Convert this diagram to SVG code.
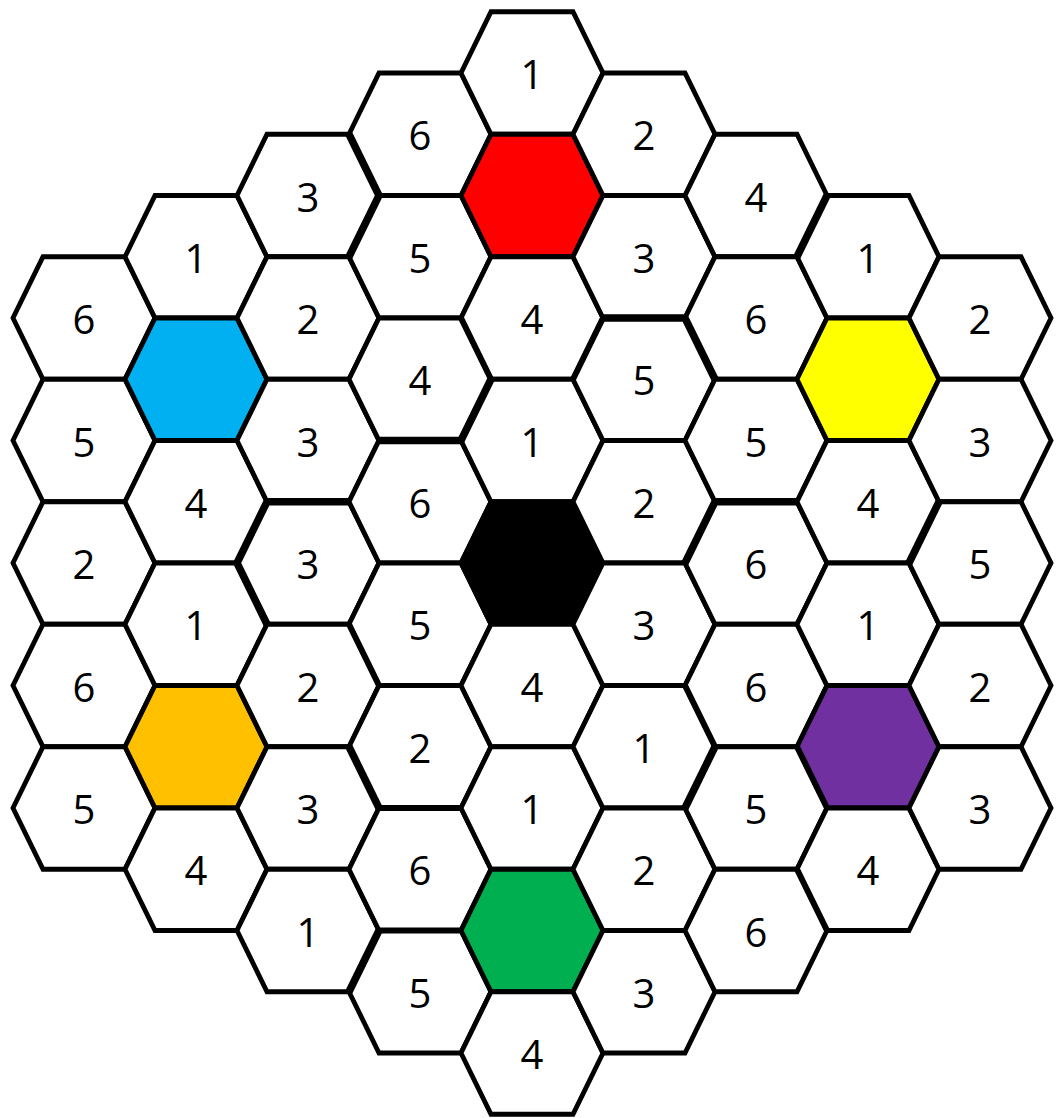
<svg xmlns="http://www.w3.org/2000/svg" xmlns:xlink="http://www.w3.org/1999/xlink" width="1056" height="1118" viewBox="0 0 1056 1118">
<style>
.h{stroke:#000;stroke-width:4.8;stroke-linejoin:miter}
.w{fill:#fff}
.red{fill:#FF0000}.blue{fill:#00B0F0}.yellow{fill:#FFFF00}.black{fill:#000}.orange{fill:#FFC000}.purple{fill:#7030A0}.green{fill:#00B050}
.t{stroke:#000;stroke-width:7.5;stroke-linecap:butt;fill:none}
.m{stroke:#000;stroke-width:6;stroke-linecap:butt;fill:none}
text{font-family:"Open Sans","Noto Sans","DejaVu Sans",sans-serif;font-size:40px;fill:#000;text-anchor:middle}
</style>
<defs>
<polygon id="hex" points="-41,-61.25 41,-61.25 71,0 41,61.25 -41,61.25 -71,0"/>
</defs>
<rect width="1056" height="1118" fill="#fff"/>
<g id="connectors"/>
<g id="c1">
<g id="n1_1" transform="translate(84,318)"><use xlink:href="#hex" class="h w"/><text y="16">6</text></g>
<g id="n1_2" transform="translate(84,440.5)"><use xlink:href="#hex" class="h w"/><text y="16">5</text></g>
<g id="n1_3" transform="translate(84,563)"><use xlink:href="#hex" class="h w"/><text y="16">2</text></g>
<g id="n1_4" transform="translate(84,685.5)"><use xlink:href="#hex" class="h w"/><text y="16">6</text></g>
<g id="n1_5" transform="translate(84,808)"><use xlink:href="#hex" class="h w"/><text y="16">5</text></g>
</g>
<g id="c2">
<g id="n2_1" transform="translate(196,256.75)"><use xlink:href="#hex" class="h w"/><text y="16">1</text></g>
<g id="n2_2" transform="translate(196,379.25)"><use xlink:href="#hex" class="h blue"/></g>
<g id="n2_3" transform="translate(196,501.75)"><use xlink:href="#hex" class="h w"/><text y="16">4</text></g>
<g id="n2_4" transform="translate(196,624.25)"><use xlink:href="#hex" class="h w"/><text y="16">1</text></g>
<g id="n2_5" transform="translate(196,746.75)"><use xlink:href="#hex" class="h orange"/></g>
<g id="n2_6" transform="translate(196,869.25)"><use xlink:href="#hex" class="h w"/><text y="16">4</text></g>
</g>
<g id="c3">
<g id="n3_1" transform="translate(308,195.5)"><use xlink:href="#hex" class="h w"/><text y="16">3</text></g>
<g id="n3_2" transform="translate(308,318)"><use xlink:href="#hex" class="h w"/><text y="16">2</text></g>
<g id="n3_3" transform="translate(308,440.5)"><use xlink:href="#hex" class="h w"/><text y="16">3</text></g>
<g id="n3_4" transform="translate(308,563)"><use xlink:href="#hex" class="h w"/><text y="16">3</text></g>
<g id="n3_5" transform="translate(308,685.5)"><use xlink:href="#hex" class="h w"/><text y="16">2</text></g>
<g id="n3_6" transform="translate(308,808)"><use xlink:href="#hex" class="h w"/><text y="16">3</text></g>
<g id="n3_7" transform="translate(308,930.5)"><use xlink:href="#hex" class="h w"/><text y="16">1</text></g>
</g>
<g id="c4">
<g id="n4_1" transform="translate(420,134.25)"><use xlink:href="#hex" class="h w"/><text y="16">6</text></g>
<g id="n4_2" transform="translate(420,256.75)"><use xlink:href="#hex" class="h w"/><text y="16">5</text></g>
<g id="n4_3" transform="translate(420,379.25)"><use xlink:href="#hex" class="h w"/><text y="16">4</text></g>
<g id="n4_4" transform="translate(420,501.75)"><use xlink:href="#hex" class="h w"/><text y="16">6</text></g>
<g id="n4_5" transform="translate(420,624.25)"><use xlink:href="#hex" class="h w"/><text y="16">5</text></g>
<g id="n4_6" transform="translate(420,746.75)"><use xlink:href="#hex" class="h w"/><text y="16">2</text></g>
<g id="n4_7" transform="translate(420,869.25)"><use xlink:href="#hex" class="h w"/><text y="16">6</text></g>
<g id="n4_8" transform="translate(420,991.75)"><use xlink:href="#hex" class="h w"/><text y="16">5</text></g>
</g>
<g id="c5">
<g id="n5_1" transform="translate(532,73)"><use xlink:href="#hex" class="h w"/><text y="16">1</text></g>
<g id="n5_2" transform="translate(532,195.5)"><use xlink:href="#hex" class="h red"/></g>
<g id="n5_3" transform="translate(532,318)"><use xlink:href="#hex" class="h w"/><text y="16">4</text></g>
<g id="n5_4" transform="translate(532,440.5)"><use xlink:href="#hex" class="h w"/><text y="16">1</text></g>
<g id="n5_5" transform="translate(532,563)"><use xlink:href="#hex" class="h black"/></g>
<g id="n5_6" transform="translate(532,685.5)"><use xlink:href="#hex" class="h w"/><text y="16">4</text></g>
<g id="n5_7" transform="translate(532,808)"><use xlink:href="#hex" class="h w"/><text y="16">1</text></g>
<g id="n5_8" transform="translate(532,930.5)"><use xlink:href="#hex" class="h green"/></g>
<g id="n5_9" transform="translate(532,1053)"><use xlink:href="#hex" class="h w"/><text y="16">4</text></g>
</g>
<g id="c6">
<g id="n6_1" transform="translate(644,134.25)"><use xlink:href="#hex" class="h w"/><text y="16">2</text></g>
<g id="n6_2" transform="translate(644,256.75)"><use xlink:href="#hex" class="h w"/><text y="16">3</text></g>
<g id="n6_3" transform="translate(644,379.25)"><use xlink:href="#hex" class="h w"/><text y="16">5</text></g>
<g id="n6_4" transform="translate(644,501.75)"><use xlink:href="#hex" class="h w"/><text y="16">2</text></g>
<g id="n6_5" transform="translate(644,624.25)"><use xlink:href="#hex" class="h w"/><text y="16">3</text></g>
<g id="n6_6" transform="translate(644,746.75)"><use xlink:href="#hex" class="h w"/><text y="16">1</text></g>
<g id="n6_7" transform="translate(644,869.25)"><use xlink:href="#hex" class="h w"/><text y="16">2</text></g>
<g id="n6_8" transform="translate(644,991.75)"><use xlink:href="#hex" class="h w"/><text y="16">3</text></g>
</g>
<g id="c7">
<g id="n7_1" transform="translate(756,195.5)"><use xlink:href="#hex" class="h w"/><text y="16">4</text></g>
<g id="n7_2" transform="translate(756,318)"><use xlink:href="#hex" class="h w"/><text y="16">6</text></g>
<g id="n7_3" transform="translate(756,440.5)"><use xlink:href="#hex" class="h w"/><text y="16">5</text></g>
<g id="n7_4" transform="translate(756,563)"><use xlink:href="#hex" class="h w"/><text y="16">6</text></g>
<g id="n7_5" transform="translate(756,685.5)"><use xlink:href="#hex" class="h w"/><text y="16">6</text></g>
<g id="n7_6" transform="translate(756,808)"><use xlink:href="#hex" class="h w"/><text y="16">5</text></g>
<g id="n7_7" transform="translate(756,930.5)"><use xlink:href="#hex" class="h w"/><text y="16">6</text></g>
</g>
<g id="c8">
<g id="n8_1" transform="translate(868,256.75)"><use xlink:href="#hex" class="h w"/><text y="16">1</text></g>
<g id="n8_2" transform="translate(868,379.25)"><use xlink:href="#hex" class="h yellow"/></g>
<g id="n8_3" transform="translate(868,501.75)"><use xlink:href="#hex" class="h w"/><text y="16">4</text></g>
<g id="n8_4" transform="translate(868,624.25)"><use xlink:href="#hex" class="h w"/><text y="16">1</text></g>
<g id="n8_5" transform="translate(868,746.75)"><use xlink:href="#hex" class="h purple"/></g>
<g id="n8_6" transform="translate(868,869.25)"><use xlink:href="#hex" class="h w"/><text y="16">4</text></g>
</g>
<g id="c9">
<g id="n9_1" transform="translate(980,318)"><use xlink:href="#hex" class="h w"/><text y="16">2</text></g>
<g id="n9_2" transform="translate(980,440.5)"><use xlink:href="#hex" class="h w"/><text y="16">3</text></g>
<g id="n9_3" transform="translate(980,563)"><use xlink:href="#hex" class="h w"/><text y="16">5</text></g>
<g id="n9_4" transform="translate(980,685.5)"><use xlink:href="#hex" class="h w"/><text y="16">2</text></g>
<g id="n9_5" transform="translate(980,808)"><use xlink:href="#hex" class="h w"/><text y="16">3</text></g>
</g>
<g id="thick-edges">
<path class="t" d="M349,134.25L379,195.5L349,256.75"/>
<path class="t" d="M379,440.5H461L491,379.25"/>
<path class="t" d="M603,318H685L715,379.25"/>
<path class="t" d="M349,501.75H267L237,563L267,624.25"/>
<path class="t" d="M349,746.75L379,808"/>
<path class="t" d="M379,930.5L349,991.75"/>
<path class="t" d="M797,501.75H715L685,563"/>
<path class="t" d="M939,501.75L909,563"/>
<path class="t" d="M715,746.75L685,808"/>
<path class="t" d="M827,195.5L797,256.75"/>
<path class="m" d="M461,318L491,379.25"/>
<path class="m" d="M349,624.25L379,685.5"/>
<path class="m" d="M379,808H461"/>
<path class="m" d="M685,685.5L715,746.75"/>
<path class="m" d="M797,746.75L827,808"/>
<path class="m" d="M797,869.25L827,930.5"/>
<path class="m" d="M379,930.5H461"/>
<path class="m" d="M603,318L573,379.25"/>
</g>
</svg>
